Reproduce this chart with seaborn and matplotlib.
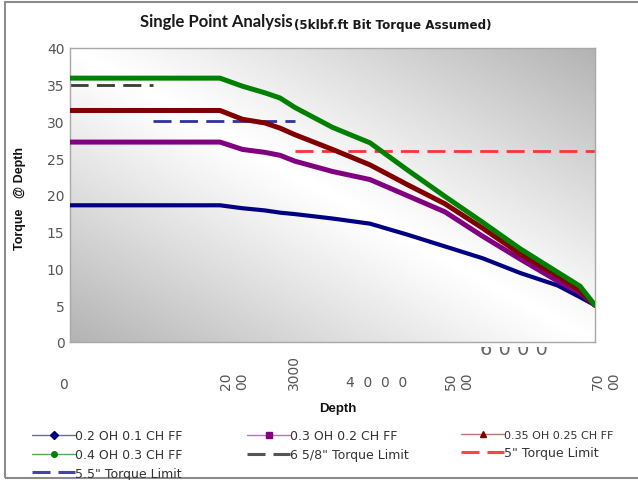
import numpy as np
import pandas as pd
import matplotlib
matplotlib.use("Agg")
import matplotlib.pyplot as plt
from matplotlib.lines import Line2D
from matplotlib.patches import Rectangle
import seaborn as sns

# ---- data -------------------------------------------------------------
depth = [0, 500, 1000, 1500, 2000, 2300, 2600, 2800, 3000, 3500,
         4000, 4500, 5000, 5500, 6000, 6500, 6800, 7000]

torque_02_01 = [18.6, 18.6, 18.6, 18.6, 18.6, 18.2, 17.9, 17.6, 17.4, 16.8,
                16.1, 14.6, 13.0, 11.4, 9.4, 7.7, 6.1, 5.0]
torque_03_02 = [27.2, 27.2, 27.2, 27.2, 27.2, 26.2, 25.8, 25.4, 24.6, 23.2,
                22.1, 19.9, 17.7, 14.4, 11.3, 8.3, 6.7, 5.0]
torque_035_025 = [31.5, 31.5, 31.5, 31.5, 31.5, 30.3, 29.8, 29.1, 28.2, 26.2,
                  24.1, 21.4, 18.8, 15.5, 12.0, 9.0, 7.0, 5.0]
torque_04_03 = [35.9, 35.9, 35.9, 35.9, 35.9, 34.8, 33.9, 33.2, 31.9, 29.2,
                27.1, 23.4, 19.8, 16.3, 12.7, 9.5, 7.6, 5.0]

series_names = ["0.2 OH 0.1 CH FF", "0.3 OH 0.2 CH FF",
                "0.35 OH 0.25 CH FF", "0.4 OH 0.3 CH FF"]
series_values = [torque_02_01, torque_03_02, torque_035_025, torque_04_03]

limit_names = ['6 5/8" Torque Limit', '5" Torque Limit', '5.5" Torque Limit']
limit_values = [35, 26, 30]
limit_from = [0, 3000, 1100]
limit_to = [1100, 7000, 3000]

x_ticks = [0, 1000, 2000, 3000, 4000, 5000, 6000, 7000]
y_ticks = [0, 5, 10, 15, 20, 25, 30, 35, 40]

# ---- styling ----------------------------------------------------------
sns.set_style("white")
plt.rcParams["font.family"] = ["DejaVu Sans"]

series_colors = ["#000080", "#800080", "#800000", "#008000"]
legend_line_colors = ["#6666bb", "#cc66cc", "#bb7777", "#55aa55"]
series_markers = ["D", "s", "^", "o"]
series_widths = [3.0, 3.6, 3.6, 3.6]
limit_colors = ["#3a3a3a", "#ff3333", "#3030a0"]
limit_legend_colors = ["#555555", "#ff4444", "#4444aa"]

df = pd.DataFrame({
    "Depth": np.tile(depth, len(series_names)),
    "Torque": np.concatenate(series_values),
    "Series": np.repeat(series_names, len(depth)),
})

W, H = 638, 481
AX_L, AX_R, AX_T, AX_B = 70, 595, 49, 343
fig = plt.figure(figsize=(W / 100, H / 100), dpi=100)
ax = fig.add_axes([AX_L / W, 1 - AX_B / H, (AX_R - AX_L) / W,
                   (AX_B - AX_T) / H])

# diagonal grey gradient behind the plot area
u, v = np.meshgrid(np.linspace(0, 1, 300), np.linspace(1, 0, 300))
shade = 1 - 0.30 * np.abs(u + v - 1) ** 1.1
ax.imshow(shade, extent=[0, 1, 0, 1], transform=ax.transAxes, aspect="auto",
          cmap="gray", vmin=0, vmax=1, zorder=0, interpolation="bilinear")

# torque limit lines
for name, val, x0, x1, col in zip(limit_names, limit_values, limit_from,
                                  limit_to, limit_colors):
    sns.lineplot(x=[x0, x1], y=[val, val], color=col, linewidth=2.0,
                 linestyle=(0, (6.5, 3)), ax=ax, zorder=2)

# torque at depth curves
for name, col, lw in zip(series_names, series_colors, series_widths):
    sub = df[df["Series"] == name]
    sns.lineplot(data=sub, x="Depth", y="Torque", color=col, linewidth=lw,
                 ax=ax, zorder=3, solid_capstyle="round",
                 solid_joinstyle="round")

ax.set_xlim(0, 7000)
ax.set_ylim(0, 40)
ax.set_xticks(x_ticks)
ax.set_xticklabels([])
ax.set_yticks(y_ticks)
ax.set_yticklabels([str(t) for t in y_ticks], fontsize=10, color="#555555")
ax.tick_params(axis="both", direction="out", length=3, width=0.8,
               color="#888888", pad=1)
ax.tick_params(axis="x", length=4)
for s in ax.spines.values():
    s.set_color("#a8a8a8")
    s.set_linewidth(1.0)
ax.set_xlabel("")
ax.set_ylabel("")

# x tick labels as laid out under the axis
tick_style = dict(fontsize=10, color="#555555")


def px(x, y):
    return x / W, 1 - y / H


fig.text(*px(63, 385), "0", ha="center", va="center", **tick_style)
fig.text(*px(234, 381), "20\n00", ha="center", va="center", rotation=90,
         linespacing=1.15, **tick_style)
fig.text(*px(294, 372), "3000", ha="center", va="center", rotation=90,
         **tick_style)
fig.text(*px(377, 383), "4  0  0  0", ha="center", va="center",
         **tick_style)
fig.text(*px(459, 381), "50\n00", ha="center", va="center", rotation=90,
         linespacing=1.15, **tick_style)
fig.text(*px(606, 381), "70\n00", ha="center", va="center", rotation=90,
         linespacing=1.15, **tick_style)
# the 6000 label sits mostly under the plot area; only its foot shows
fig.text(*px(514, 355), "6 0 0 0", ha="center", va="baseline",
         fontsize=14, color="#666666", zorder=-2)
fig.add_artist(Rectangle((470 / W, 1 - 348 / H), 90 / W, 6 / H,
                         transform=fig.transFigure, facecolor="white",
                         edgecolor="none", zorder=-1))

# axis titles
fig.text(*px(338, 409), "Depth", ha="center", va="center", fontsize=9.5,
         fontweight="bold", color="#111111", family="Liberation Sans")
fig.text(*px(20, 198), "Torque   @ Depth", ha="center", va="center",
         rotation=90, fontsize=9, fontweight="bold", color="#111111",
         family="Liberation Sans")

# chart title
fig.text(*px(140, 22), "Single Point Analysis", ha="left", va="center",
         fontsize=12, fontweight="bold", color="#1a1a1a", family="Lato")
fig.text(*px(294, 25), "(5klbf.ft Bit Torque Assumed)", ha="left",
         va="center", fontsize=8.6, fontweight="bold", color="#1a1a1a")

# legend: three columns, filled row by row
handles = {}
for name, col, lcol, mk in zip(series_names, series_colors,
                               legend_line_colors, series_markers):
    handles[name] = Line2D([], [], color=lcol, lw=1.0, marker=mk,
                           markersize=4, markerfacecolor=col,
                           markeredgecolor=col)
for name, col in zip(limit_names, limit_legend_colors):
    handles[name] = Line2D([], [], color=col, lw=2.2,
                           linestyle=(0, (5.9, 2.6)))

columns = [
    [series_names[0], series_names[3], limit_names[2]],
    [series_names[1], limit_names[0]],
    [series_names[2], limit_names[1]],
]
col_x = [32, 247, 461]
for names, x0 in zip(columns, col_x):
    leg = fig.legend([handles[k] for k in names], names, loc="upper left",
                     bbox_to_anchor=(x0 / W, 1 - 430.5 / H), frameon=False,
                     fontsize=9, handlelength=3.45, handletextpad=0.0,
                     labelspacing=0.45, borderaxespad=0, borderpad=0)
    for t in leg.get_texts():
        t.set_color("#333333")
        if t.get_text() == series_names[2]:
            t.set_fontsize(8)

# outer chart frame
fig.patches.append(Rectangle((5 / W, 2 / H), 1.2, 1 - 5 / H,
                             transform=fig.transFigure, fill=False,
                             edgecolor="#8c8c8c", linewidth=1.5))

fig.savefig("out.png", dpi=100)
